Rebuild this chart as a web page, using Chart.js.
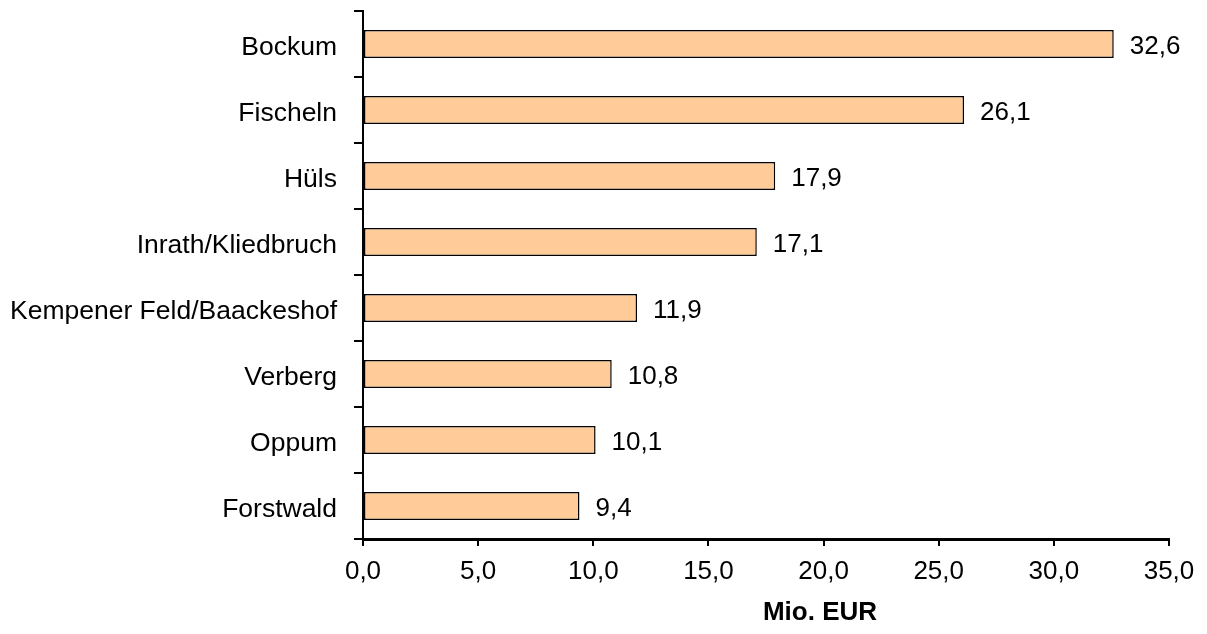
<!DOCTYPE html>
<html>
<head>
<meta charset="utf-8">
<script src="https://cdn.jsdelivr.net/npm/chart.js@4"></script>
<style>
  html, body { margin: 0; padding: 0; background: #fff; }
  #wrap { width: 1207px; height: 634px; }
</style>
</head>
<body>
<div id="wrap"><canvas id="chart"></canvas></div>
<script>
// data
const districts = ['Bockum', 'Fischeln', 'Hüls', 'Inrath/Kliedbruch', 'Kempener Feld/Baackeshof', 'Verberg', 'Oppum', 'Forstwald'];
const values = [32.6, 26.1, 17.9, 17.1, 11.9, 10.8, 10.1, 9.4];
const axisTitle = 'Mio. EUR';
const xMax = 35;
const xStep = 5;

const FONT = 'Arial, "Liberation Sans", sans-serif';

function deNum(v) {
    return Number(v).toFixed(1).replace('.', ',');
}

// value labels right of each bar + axis title (sits right of centre in the original)
const annotate = {
    id: 'annotate',
    afterDatasetsDraw(chart) {
        const ctx = chart.ctx;
        const meta = chart.getDatasetMeta(0);
        ctx.save();
        ctx.font = '26px ' + FONT;
        ctx.fillStyle = '#000';
        ctx.textAlign = 'left';
        ctx.textBaseline = 'middle';
        meta.data.forEach(function(bar, i) {
            ctx.fillText(deNum(values[i]), bar.x + 16, bar.y + 3);
        });

        const area = chart.chartArea;
        ctx.font = 'bold 26px ' + FONT;
        ctx.textAlign = 'center';
        ctx.fillText(axisTitle, (area.left + area.right) / 2 + 54, 613);
        ctx.restore();
    }
};

new Chart(document.getElementById('chart'), {
    type: 'bar',
    data: {
        labels: districts,
        datasets: [{
            data: values,
            backgroundColor: '#FFCC99',
            borderColor: '#000',
            borderWidth: 1.5,
            borderSkipped: false,
            categoryPercentage: 1,
            barPercentage: 0.424
        }]
    },
    plugins: [annotate],
    options: {
        indexAxis: 'y',
        responsive: true,
        maintainAspectRatio: false,
        animation: false,
        layout: { padding: { left: 0, right: 38, top: 11, bottom: 6 } },
        plugins: {
            legend: { display: false },
            tooltip: { enabled: false }
        },
        scales: {
            x: {
                min: 0,
                max: xMax,
                grid: {
                    drawOnChartArea: false,
                    drawTicks: true,
                    tickLength: 7,
                    color: '#000',
                    lineWidth: 2
                },
                border: { color: '#000', width: 3 },
                ticks: {
                    stepSize: xStep,
                    color: '#000',
                    padding: 10,
                    font: { family: FONT, size: 26 },
                    callback: function(v) { return deNum(v); }
                },
                afterFit: function(scale) { scale.height = 89; }
            },
            y: {
                grid: {
                    drawOnChartArea: false,
                    drawTicks: true,
                    tickLength: 9,
                    color: '#000',
                    lineWidth: 2,
                    offset: true
                },
                border: { color: '#000', width: 2 },
                ticks: {
                    color: '#000',
                    padding: 17,
                    labelOffset: 4,
                    font: { family: FONT, size: 26.5 }
                },
                afterFit: function(scale) {
                    scale.width = 363;
                    scale.paddingTop = 0;
                    scale.paddingBottom = 0;
                }
            }
        }
    }
});
</script>
</body>
</html>
